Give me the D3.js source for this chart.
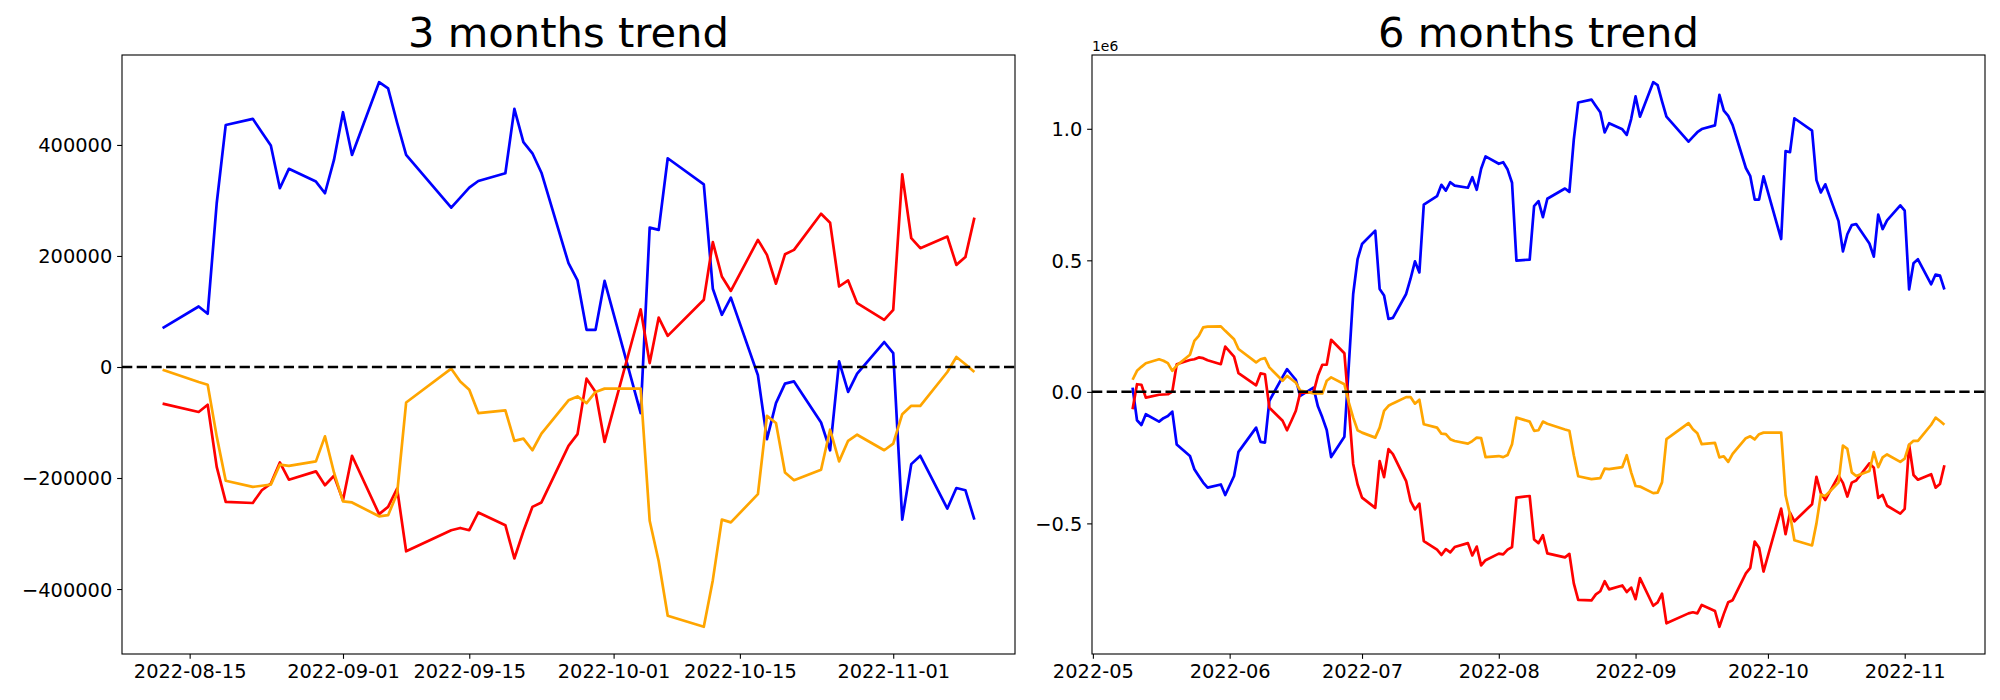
<!DOCTYPE html>
<html>
<head>
<meta charset="utf-8">
<script src="https://cdn.jsdelivr.net/npm/d3@7"></script>
<style>
  body { margin: 0; background: #fff; }
  svg { font-family: "DejaVu Sans", sans-serif; }
  .axis path, .axis line { stroke: #000; stroke-width: 1.1; }
  .axis text { font-size: 19.4px; fill: #000; font-family: "DejaVu Sans", sans-serif; }
  .trend-line { fill: none; stroke-width: 2.7; stroke-linejoin: round; }
  .zero-line { stroke: #000; stroke-width: 2.5; stroke-dasharray: 10.3 4.4; }
</style>
</head>
<body>
<div class="graph--trend"></div>
<script>
// trading days, values in thousands
var days3m = ["2022-08-12","2022-08-16","2022-08-17","2022-08-18","2022-08-19","2022-08-22","2022-08-23","2022-08-24","2022-08-25","2022-08-26","2022-08-29","2022-08-30","2022-08-31",
  "2022-09-01","2022-09-02","2022-09-05","2022-09-06","2022-09-07","2022-09-08","2022-09-13","2022-09-14","2022-09-15","2022-09-16","2022-09-19","2022-09-20","2022-09-21","2022-09-22","2022-09-23","2022-09-26","2022-09-27","2022-09-28","2022-09-29","2022-09-30",
  "2022-10-04","2022-10-05","2022-10-06","2022-10-07","2022-10-11","2022-10-12","2022-10-13","2022-10-14","2022-10-17","2022-10-18","2022-10-19","2022-10-20","2022-10-21","2022-10-24","2022-10-25","2022-10-26","2022-10-27","2022-10-28","2022-10-31",
  "2022-11-01","2022-11-02","2022-11-03","2022-11-04","2022-11-07","2022-11-08","2022-11-09","2022-11-10"];
var blue3m = [70,109,96,295,436,447,423,399,322,357,334,313,373,
  459,382,513,502,440,382,287,305,323,335,349,465,405,385,350,187,156,67,67,155,
  -83,251,247,376,329,141,94,125,-15,-130,-65,-30,-26,-100,-150,10,-45,-12,45,
  25,-275,-175,-160,-255,-218,-222,-275];
var red3m = [-66,-81,-68,-180,-243,-245,-222,-210,-172,-203,-188,-213,-196,
  -240,-160,-265,-252,-219,-332,-294,-290,-294,-262,-285,-345,-296,-252,-244,-142,-121,-21,-45,-135,
  104,7,89,56,121,225,163,137,229,202,150,203,211,276,260,145,156,115,85,
  103,347,232,214,235,184,198,269];
var orange3m = [-5,-27,-32,-125,-205,-216,-214,-212,-176,-178,-170,-125,-190,
  -242,-244,-269,-267,-228,-64,-3,-26,-41,-83,-78,-133,-129,-150,-120,-60,-53,-65,-45,-39,
  -39,-277,-350,-448,-468,-384,-275,-280,-229,-88,-101,-190,-204,-185,-113,-170,-133,-122,-150,
  -138,-85,-70,-70,-9,18,5,-9];

var days6m = ["2022-05-10","2022-05-11","2022-05-12","2022-05-13","2022-05-16","2022-05-17","2022-05-18","2022-05-19","2022-05-20","2022-05-23","2022-05-24","2022-05-25","2022-05-26","2022-05-27","2022-05-30","2022-05-31",
  "2022-06-02","2022-06-03","2022-06-07","2022-06-08","2022-06-09","2022-06-10","2022-06-13","2022-06-14","2022-06-15","2022-06-16","2022-06-17","2022-06-20","2022-06-21","2022-06-22","2022-06-23","2022-06-24","2022-06-27","2022-06-28","2022-06-29","2022-06-30",
  "2022-07-01","2022-07-04","2022-07-05","2022-07-06","2022-07-07","2022-07-08","2022-07-11","2022-07-12","2022-07-13","2022-07-14","2022-07-15","2022-07-18","2022-07-19","2022-07-20","2022-07-21","2022-07-22","2022-07-25","2022-07-26","2022-07-27","2022-07-28","2022-07-29",
  "2022-08-01","2022-08-02","2022-08-03","2022-08-04","2022-08-05","2022-08-08","2022-08-09","2022-08-10","2022-08-11"].concat(days3m);
var blue6m = [16,-108,-126,-85,-113,-100,-92,-75,-200,-244,-294,-320,-345,-364,-352,-392,
  -320,-228,-136,-190,-193,-34,57,86,66,46,-15,16,-55,-97,-145,-248,-171,100,372,505,
  562,613,391,366,277,281,372,430,496,454,712,744,787,765,797,784,776,816,768,848,895,
  867,873,845,795,499,503,706,725,664,
  734,773,760,959,1100,1111,1087,1063,986,1021,998,977,1037,
  1123,1046,1177,1166,1104,1046,951,969,987,999,1013,1129,1069,1049,1014,851,820,731,731,819,
  581,915,911,1040,993,805,758,789,649,534,599,634,638,564,514,674,619,652,709,
  689,389,489,504,409,446,442,389];
var red6m = [-66,29,27,-22,-11,-10,-9,1,105,121,124,131,128,120,105,172,
  134,71,25,70,67,-60,-110,-146,-110,-72,-3,-3,61,103,103,198,147,-60,-274,-352,
  -402,-441,-263,-324,-218,-237,-339,-415,-447,-425,-567,-600,-620,-598,-610,-590,-575,-622,-588,-660,-640,
  -615,-618,-600,-590,-402,-396,-561,-575,-545,
  -614,-629,-616,-728,-791,-793,-770,-758,-720,-751,-736,-761,-744,
  -788,-708,-813,-800,-767,-880,-842,-838,-842,-810,-833,-893,-844,-800,-792,-690,-669,-569,-593,-683,
  -444,-541,-459,-492,-427,-323,-385,-411,-319,-346,-398,-345,-337,-272,-288,-403,-392,-433,-463,
  -445,-201,-316,-334,-313,-364,-350,-279];
var orange6m = [46,80,95,109,124,118,109,80,100,141,194,213,245,248,249,232,
  200,163,112,124,128,93,42,61,48,35,5,-6,-6,-6,42,55,29,-40,-98,-146,
  -155,-174,-136,-72,-53,-44,-20,-20,-45,-30,-123,-136,-159,-161,-180,-187,-197,-187,-174,-176,-248,
  -244,-248,-240,-199,-98,-113,-148,-146,-113,
  -121,-143,-148,-241,-321,-332,-330,-328,-292,-294,-286,-241,-306,
  -358,-360,-385,-383,-344,-180,-119,-142,-157,-199,-194,-249,-245,-266,-236,-176,-169,-181,-161,-155,
  -155,-393,-466,-564,-584,-500,-391,-396,-345,-204,-217,-306,-320,-301,-229,-286,-249,-238,-266,
  -254,-201,-186,-186,-125,-98,-111,-125];

var seriesColors = ["#0000ff", "#ff0000", "#ffa500"];

var xTicks3m = ["2022-08-15","2022-09-01","2022-09-15","2022-10-01","2022-10-15","2022-11-01"];
var xTicks6m = ["2022-05-01","2022-06-01","2022-07-01","2022-08-01","2022-09-01","2022-10-01","2022-11-01"];
var yTicks3m = [-400000, -200000, 0, 200000, 400000];
var yTicks6m = [-500000, 0, 500000, 1000000];

var parseDay = d3.timeParse("%Y-%m-%d");
var minus = function(s) { return s.replace("-", "\u2212"); };

var svg = d3.select(".graph--trend").append("svg")
    .attr("width", 2000)
    .attr("height", 700);

function drawPanel(p) {
  var dates = p.days.map(parseDay);
  var width = p.right - p.left, height = p.bottom - p.top;

  var t0 = dates[0].getTime(), t1 = dates[dates.length - 1].getTime();
  var xpad = (t1 - t0) * 0.05;
  var xScale = d3.scaleTime()
      .domain([new Date(t0 - xpad), new Date(t1 + xpad)])
      .range([0, width]);

  var all = [].concat(p.series[0], p.series[1], p.series[2]).map(function(v) { return v * 1000; });
  var lo = d3.min(all), hi = d3.max(all), ypad = (hi - lo) * 0.05;
  var yScale = d3.scaleLinear()
      .domain([lo - ypad, hi + ypad])
      .range([height, 0]);

  var g = svg.append("g")
      .attr("transform", "translate(" + p.left + "," + p.top + ")");

  // series lines
  var line = d3.line()
      .x(function(d) { return xScale(d.date); })
      .y(function(d) { return yScale(d.value * 1000); });
  p.series.forEach(function(values, i) {
    var pts = values.map(function(v, j) { return { date: dates[j], value: v }; });
    g.append("path")
      .datum(pts)
      .attr("class", "trend-line")
      .attr("stroke", seriesColors[i])
      .attr("d", line);
  });

  // zero line
  g.append("line")
    .attr("class", "zero-line")
    .attr("x1", 0)
    .attr("x2", width)
    .attr("y1", yScale(0))
    .attr("y2", yScale(0));

  // frame
  g.append("rect")
    .attr("width", width)
    .attr("height", height)
    .attr("fill", "none")
    .attr("stroke", "#000")
    .attr("stroke-width", 1.1);

  var xAxis = d3.axisBottom(xScale)
      .tickValues(p.xTicks.map(parseDay))
      .tickFormat(d3.timeFormat(p.xFormat))
      .tickSize(4.86)
      .tickPadding(4.86);
  var xAxisEl = g.append("g")
      .attr("class", "x axis")
      .attr("transform", "translate(0," + height + ")")
      .call(xAxis);
  xAxisEl.select(".domain").remove();
  xAxisEl.selectAll("text").attr("dy", "0.76em");

  var yAxis = d3.axisLeft(yScale)
      .tickValues(p.yTicks)
      .tickFormat(p.yFormat)
      .tickSize(4.86)
      .tickPadding(4.86);
  var yAxisEl = g.append("g")
      .attr("class", "y axis")
      .call(yAxis);
  yAxisEl.select(".domain").remove();
  yAxisEl.selectAll("text").attr("dy", "0.36em");

  g.append("text")
    .attr("x", width / 2)
    .attr("y", -8.33)
    .attr("text-anchor", "middle")
    .style("font-size", "41.67px")
    .text(p.title);

  if (p.offsetText) {
    g.append("text")
      .attr("x", 0)
      .attr("y", -4.5)
      .style("font-size", "13.9px")
      .text(p.offsetText);
  }
}

drawPanel({
  title: "3 months trend",
  days: days3m,
  series: [blue3m, red3m, orange3m],
  xTicks: xTicks3m,
  xFormat: "%Y-%m-%d",
  yTicks: yTicks3m,
  yFormat: function(d) { return minus(String(d)); },
  left: 122, right: 1015, top: 55, bottom: 654
});

drawPanel({
  title: "6 months trend",
  days: days6m,
  series: [blue6m, red6m, orange6m],
  xTicks: xTicks6m,
  xFormat: "%Y-%m",
  yTicks: yTicks6m,
  yFormat: function(d) { return minus((d / 1e6).toFixed(1)); },
  offsetText: "1e6",
  left: 1092, right: 1985, top: 55, bottom: 654
});
</script>
</body>
</html>
